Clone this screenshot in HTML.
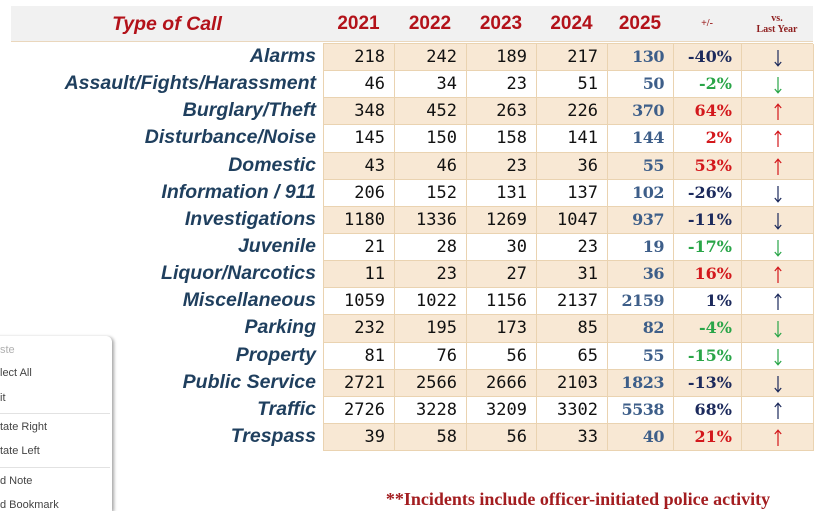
<!DOCTYPE html>
<html><head><meta charset="utf-8">
<style>
*{margin:0;padding:0;box-sizing:border-box}
html,body{width:825px;height:511px;overflow:hidden}
body{background:#fff;position:relative;font-family:"Liberation Sans",sans-serif}
.hdr{position:absolute;left:11px;top:6px;width:802px;height:36px;background:#f1f1f1;border-bottom:1px solid #ead7bd}
.h{position:absolute;top:6px;height:36px;line-height:36px;text-align:center;color:#b3121a;font-weight:bold;font-size:19px}
.labels{position:absolute;left:0;top:43px;width:316px}
.labels div{height:27.15px;line-height:27.15px;text-align:right;font-weight:bold;font-style:italic;font-size:19.5px;color:#1f3f5e;white-space:nowrap}
.grid{position:absolute;left:323px;top:43px;width:490px;display:grid;grid-template-columns:71px 72px 70px 71px 66px 68px 72px;grid-auto-rows:27.15px;border-left:1px solid #ead3b1;border-top:1px solid #ead3b1}
.grid div{border-right:1px solid #ead3b1;border-bottom:1px solid #ead3b1;text-align:right;padding-right:9px;line-height:26px;font-family:"DejaVu Sans Mono","Liberation Mono",monospace;font-size:17px;color:#111;white-space:nowrap}
.grid div.s{background:#f8e8d4}
.grid div.y{font-family:"DejaVu Serif","Liberation Serif",serif;font-weight:bold;font-size:16px;letter-spacing:-0.5px;color:#3d5e89;padding-right:9px}
.grid div.p{font-family:"DejaVu Serif","Liberation Serif",serif;font-weight:bold;font-size:16px;padding-right:9px}
.grid div.a{text-align:center;padding:0}
.grid div.n{color:#1c2a5c}.grid div.g{color:#29a548}.grid div.r{color:#d3181c}
.a svg{display:block;margin:5px auto 0}
.menu{position:absolute;left:-10px;top:336px;width:122px;height:175px;background:#fff;border-radius:0 6px 0 0;box-shadow:2px 1px 3px rgba(0,0,0,0.35)}
.mi{position:absolute;left:0;font-size:11px;color:#444;white-space:nowrap;font-family:"Liberation Sans",sans-serif}
.sep{position:absolute;left:0;width:110px;height:1px;background:#e2e2e2}
.foot{position:absolute;left:330px;width:496px;top:489px;text-align:center;font-family:"Liberation Serif",serif;font-weight:bold;font-size:18px;color:#a31d20;white-space:nowrap}
</style></head><body>
<div class="hdr"></div>
<div class="h" style="left:11px;width:312px;font-style:italic;font-size:19.5px">Type of Call</div>
<div class="h" style="left:323px;width:71px">2021</div>
<div class="h" style="left:394px;width:72px">2022</div>
<div class="h" style="left:466px;width:70px">2023</div>
<div class="h" style="left:536px;width:71px">2024</div>
<div class="h" style="left:607px;width:66px">2025</div>
<div class="h" style="left:673px;width:68px;font-family:'Liberation Serif',serif;font-size:10px;color:#9a1c1c">+/-</div>
<div style="position:absolute;left:741px;width:72px;top:13px;text-align:center;font-family:'Liberation Serif',serif;font-weight:bold;font-size:10px;line-height:11px;color:#8e1e1e">vs.<br>Last Year</div>

<div class="labels">
<div>Alarms</div><div>Assault/Fights/Harassment</div><div>Burglary/Theft</div><div>Disturbance/Noise</div><div>Domestic</div><div>Information / 911</div><div>Investigations</div><div>Juvenile</div><div>Liquor/Narcotics</div><div>Miscellaneous</div><div>Parking</div><div>Property</div><div>Public Service</div><div>Traffic</div><div>Trespass</div>
</div>

<svg width="0" height="0" style="position:absolute">
<defs>
<symbol id="dn" viewBox="0 0 10 18"><path d="M5 1V16.5M1.8 13L5 16.8L8.2 13" fill="none" stroke="currentColor" stroke-width="1.2"/></symbol>
<symbol id="up" viewBox="0 0 10 18"><path d="M5 17V1.5M1.8 5L5 1.2L8.2 5" fill="none" stroke="currentColor" stroke-width="1.2"/></symbol>
</defs></svg>

<div class="grid">
<div class="s">218</div><div class="s">242</div><div class="s">189</div><div class="s">217</div><div class="s y">130</div><div class="s p n">-40%</div><div class="s a n"><svg width="10" height="18"><use href="#dn"/></svg></div>
<div>46</div><div>34</div><div>23</div><div>51</div><div class="y">50</div><div class="p g">-2%</div><div class="a g"><svg width="10" height="18"><use href="#dn"/></svg></div>
<div class="s">348</div><div class="s">452</div><div class="s">263</div><div class="s">226</div><div class="s y">370</div><div class="s p r">64%</div><div class="s a r"><svg width="10" height="18"><use href="#up"/></svg></div>
<div>145</div><div>150</div><div>158</div><div>141</div><div class="y">144</div><div class="p r">2%</div><div class="a r"><svg width="10" height="18"><use href="#up"/></svg></div>
<div class="s">43</div><div class="s">46</div><div class="s">23</div><div class="s">36</div><div class="s y">55</div><div class="s p r">53%</div><div class="s a r"><svg width="10" height="18"><use href="#up"/></svg></div>
<div>206</div><div>152</div><div>131</div><div>137</div><div class="y">102</div><div class="p n">-26%</div><div class="a n"><svg width="10" height="18"><use href="#dn"/></svg></div>
<div class="s">1180</div><div class="s">1336</div><div class="s">1269</div><div class="s">1047</div><div class="s y">937</div><div class="s p n">-11%</div><div class="s a n"><svg width="10" height="18"><use href="#dn"/></svg></div>
<div>21</div><div>28</div><div>30</div><div>23</div><div class="y">19</div><div class="p g">-17%</div><div class="a g"><svg width="10" height="18"><use href="#dn"/></svg></div>
<div class="s">11</div><div class="s">23</div><div class="s">27</div><div class="s">31</div><div class="s y">36</div><div class="s p r">16%</div><div class="s a r"><svg width="10" height="18"><use href="#up"/></svg></div>
<div>1059</div><div>1022</div><div>1156</div><div>2137</div><div class="y">2159</div><div class="p n">1%</div><div class="a n"><svg width="10" height="18"><use href="#up"/></svg></div>
<div class="s">232</div><div class="s">195</div><div class="s">173</div><div class="s">85</div><div class="s y">82</div><div class="s p g">-4%</div><div class="s a g"><svg width="10" height="18"><use href="#dn"/></svg></div>
<div>81</div><div>76</div><div>56</div><div>65</div><div class="y">55</div><div class="p g">-15%</div><div class="a g"><svg width="10" height="18"><use href="#dn"/></svg></div>
<div class="s">2721</div><div class="s">2566</div><div class="s">2666</div><div class="s">2103</div><div class="s y">1823</div><div class="s p n">-13%</div><div class="s a n"><svg width="10" height="18"><use href="#dn"/></svg></div>
<div>2726</div><div>3228</div><div>3209</div><div>3302</div><div class="y">5538</div><div class="p n">68%</div><div class="a n"><svg width="10" height="18"><use href="#up"/></svg></div>
<div class="s">39</div><div class="s">58</div><div class="s">56</div><div class="s">33</div><div class="s y">40</div><div class="s p r">21%</div><div class="s a r"><svg width="10" height="18"><use href="#up"/></svg></div>
</div>

<div class="menu"></div>
<div class="mi" style="top:344px;color:#b0b0b0">ste</div>
<div class="mi" style="top:367px">lect All</div>
<div class="mi" style="top:392px">it</div>
<div class="sep" style="top:413px"></div>
<div class="mi" style="top:421px">tate Right</div>
<div class="mi" style="top:445px">tate Left</div>
<div class="sep" style="top:467px"></div>
<div class="mi" style="top:475px">d Note</div>
<div class="mi" style="top:499px">d Bookmark</div>

<div class="foot">**Incidents include officer-initiated police activity</div>
</body></html>
